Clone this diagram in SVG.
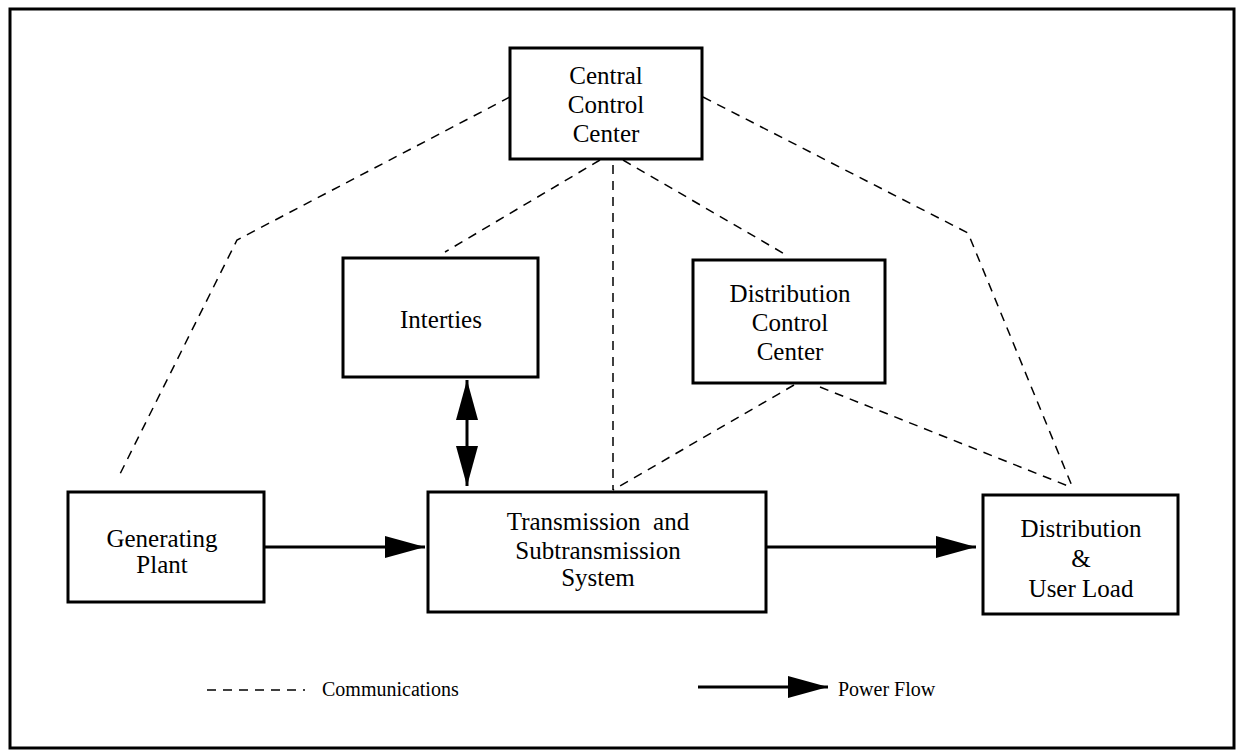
<svg xmlns="http://www.w3.org/2000/svg" width="1238" height="751" viewBox="0 0 1238 751">
  <defs>
    <marker id="head" markerUnits="userSpaceOnUse" markerWidth="42" markerHeight="24" refX="40" refY="11" orient="auto-start-reverse">
      <path d="M0,0 L40,11 L0,22 Z" fill="#000"/>
    </marker>
  </defs>
  <style>
    .box { fill: #fff; stroke: #000; stroke-width: 3; }
    .comm { fill: none; stroke: #000; stroke-width: 1.5; stroke-dasharray: 9 7; }
    .power { fill: none; stroke: #000; stroke-width: 3; }
    text { font-family: "Liberation Serif", "Times New Roman", serif; font-size: 25px; fill: #000; text-anchor: middle; }
    .legend { font-size: 20px; text-anchor: start; }
  </style>
  <rect x="0" y="0" width="1238" height="751" fill="#fff"/>
  <!-- outer frame -->
  <rect x="10" y="9" width="1224" height="739" fill="none" stroke="#000" stroke-width="3"/>

  <!-- communications and power connectors -->
  <g id="connectors">
    <polyline class="comm" points="510,97 237,240 118,478"/>
    <polyline class="comm" points="703,97 968,233 1072,486"/>
    <line class="comm" x1="600" y1="160" x2="445" y2="252"/>
    <line class="comm" x1="623" y1="160" x2="788" y2="256"/>
    <line class="comm" x1="613" y1="165" x2="613" y2="490"/>
    <line class="comm" x1="794" y1="385" x2="613" y2="490"/>
    <line class="comm" x1="820" y1="387" x2="1068" y2="486"/>
    <line class="power" x1="264" y1="547" x2="425" y2="547" marker-end="url(#head)"/>
    <line class="power" x1="766" y1="547" x2="976" y2="547" marker-end="url(#head)"/>
    <line class="power" x1="467" y1="380" x2="467" y2="486" marker-start="url(#head)" marker-end="url(#head)"/>
  </g>

  <g id="central-control-center">
    <rect class="box" x="510" y="48" width="192" height="111"/>
    <text x="606" y="84">Central</text>
    <text x="606" y="113">Control</text>
    <text x="606" y="142">Center</text>
  </g>

  <g id="interties">
    <rect class="box" x="343" y="258" width="195" height="119"/>
    <text x="441" y="328">Interties</text>
  </g>

  <g id="distribution-control-center">
    <rect class="box" x="693" y="260" width="192" height="123"/>
    <text x="790" y="302">Distribution</text>
    <text x="790" y="331">Control</text>
    <text x="790" y="360">Center</text>
  </g>

  <g id="generating-plant">
    <rect class="box" x="68" y="492" width="196" height="110"/>
    <text x="162" y="547">Generating</text>
    <text x="162" y="573">Plant</text>
  </g>

  <g id="transmission-system">
    <rect class="box" x="428" y="492" width="338" height="120"/>
    <text x="598" y="530" xml:space="preserve">Transmission  and</text>
    <text x="598" y="559">Subtransmission</text>
    <text x="598" y="586">System</text>
  </g>

  <g id="distribution-user-load">
    <rect class="box" x="983" y="495" width="195" height="119"/>
    <text x="1081" y="537">Distribution</text>
    <text x="1081" y="567">&amp;</text>
    <text x="1081" y="597">User Load</text>
  </g>

  <!-- legend -->
  <g id="legend">
    <line class="comm" x1="207" y1="690" x2="305" y2="690"/>
    <text class="legend" x="322" y="696">Communications</text>
    <line class="power" x1="698" y1="687" x2="828" y2="687" marker-end="url(#head)"/>
    <text class="legend" x="838" y="696">Power Flow</text>
  </g>
</svg>
